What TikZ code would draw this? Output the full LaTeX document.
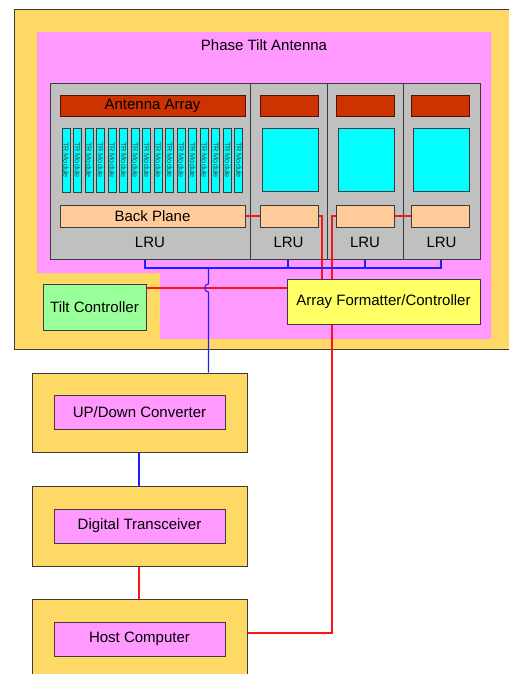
\documentclass[tikz,border=0pt]{standalone}
\usepackage{fontspec}
\setmainfont{Liberation Sans}
\usepackage{xcolor, tikz}
\usetikzlibrary{calc,positioning}

\definecolor{shellorange}{RGB}{255,217,102}
\definecolor{antpink}{RGB}{255,153,255}
\definecolor{lrugray}{RGB}{192,192,192}
\definecolor{arrayred}{RGB}{204,51,0}
\definecolor{modcyan}{RGB}{0,255,255}
\definecolor{planetan}{RGB}{255,204,153}
\definecolor{tiltgreen}{RGB}{153,255,153}
\definecolor{fmtyellow}{RGB}{255,255,102}
\definecolor{wirered}{RGB}{255,20,20}
\definecolor{wireblue}{RGB}{30,30,255}
\definecolor{lineedge}{RGB}{60,60,60}

\begin{document}
\begin{tikzpicture}[x=0.75pt, y=-0.75pt, font=\fontsize{11.25}{13}\selectfont,
	rect/.style n args={4}{draw=lineedge, line width=0.75pt, inner sep=0pt,
		minimum width={((#3)-(#1))*0.75pt}, minimum height={((#4)-(#2))*0.75pt},
		at={({((#1)+(#3))/2},{((#2)+(#4))/2})}},
	modbox/.style={draw=lineedge, line width=0.75pt, fill=modcyan, inner sep=0pt,
		minimum width=64*0.75pt, minimum height=8*0.75pt, rotate=-90,
		font=\fontsize{5.5}{6}\selectfont, text=black!75},
	redw/.style={draw=wirered, line width=0.8pt},
	bluew/.style={draw=wireblue, line width=0.8pt}]
	\useasboundingbox (0,0) rectangle (509,674);
	\clip (0,0) rectangle (509,674);

	%enclosure
	\node[rect={14}{10}{530}{349}, fill=shellorange] (shell) {};
	\fill[antpink] (37,32) -- (491,32) -- (491,339) -- (160,339)
		-- (160,273) -- (37,273) -- cycle;
	\node (title) at (264,45) {Phase Tilt Antenna};

	%line replaceable units
	\node[rect={50}{84}{250}{259}, fill=lrugray] (lru1) {};
	\node[rect={250}{84}{327}{259}, fill=lrugray] (lru2) {};
	\node[rect={327}{84}{403}{259}, fill=lrugray] (lru3) {};
	\node[rect={403}{84}{480}{259}, fill=lrugray] (lru4) {};
	\foreach \k in {1,...,4}
		\node (lbl\k) at ([yshift=17*0.75pt]lru\k.south) {LRU};

		%radiators
		\node[rect={60}{95}{245}{116}, fill=arrayred, draw=arrayred!40!black] (arr1) {Antenna Array};
		\node[rect={260}{95}{318}{116}, fill=arrayred, draw=arrayred!40!black] (arr2) {};
		\node[rect={336}{95}{394}{116}, fill=arrayred, draw=arrayred!40!black] (arr3) {};
		\node[rect={411}{95}{469}{116}, fill=arrayred, draw=arrayred!40!black] (arr4) {};

		%transmit/receive modules
		\foreach \i in {0,...,15}
			\node[modbox] (tr\i) at (66+11.53*\i,160) {TR Module};
		\node[rect={262}{128}{318}{191}, fill=modcyan] (cy2) {};
		\node[rect={338}{128}{394}{191}, fill=modcyan] (cy3) {};
		\node[rect={413}{128}{469}{191}, fill=modcyan] (cy4) {};

		%back planes
		\node[rect={60}{205}{245}{227}, fill=planetan] (bp1) {Back Plane};
		\node[rect={260}{205}{318}{227}, fill=planetan] (bp2) {};
		\node[rect={336}{205}{394}{227}, fill=planetan] (bp3) {};
		\node[rect={411}{205}{469}{227}, fill=planetan] (bp4) {};

	%controllers
	\node[rect={43}{284}{146}{330}, fill=tiltgreen] (tilt) {Tilt Controller};
	\node[rect={287}{279}{480}{324}, fill=fmtyellow] (fmt) {Array Formatter/Controller};

	%below deck
	\node[rect={32}{373}{247}{452}, fill=shellorange] (udOut) {};
	\node[rect={54}{395}{225}{429}, fill=antpink] (udIn) {UP/Down Converter};
	\node[rect={32}{486}{247}{566}, fill=shellorange] (dtOut) {};
	\node[rect={54}{509}{225}{543}, fill=antpink] (dtIn) {Digital Transceiver};
	\node[rect={32}{599}{247}{679}, fill=shellorange] (hcOut) {};
	\node[rect={54}{622}{225}{656}, fill=antpink] (hcIn) {Host Computer};

	%control wiring
	\draw[redw] (bp1.east) -- (bp2.west);
	\draw[redw] (bp3.east) -- (bp4.west);
	\draw[redw] (bp2.east) -| ($(fmt.north west)+(35.5,0)$);
	\draw[redw] (bp3.west) -| ($(fmt.north west)+(45.5,0)$);
	\draw[redw] ([yshift=-4.5*0.75pt]tilt.north east) -- ([yshift=-9.5*0.75pt]fmt.north west);
	\draw[redw] ($(fmt.south west)+(45.5,0)$) |- ([yshift=6*0.75pt]hcOut.east);
	\draw[redw] ([xshift=-0.5*0.75pt]dtOut.south) -- ([xshift=-0.5*0.75pt]hcOut.north);

	%rf bus
	\draw[bluew] ([xshift=-5*0.75pt]lru1.south) -- ++(0,8.5) -| ([xshift=-0.5*0.75pt]lru4.south);
	\draw[bluew] ([xshift=-0.5*0.75pt]lru2.south) -- ++(0,8.5);
	\draw[bluew] (lru3.south) -- ++(0,8.5);
	\coordinate (tap) at (208.5,268);
	\draw[bluew] (tap) -- ++(0,16) arc[start angle=90, end angle=270, radius=3pt]
		-- (udOut.north -| tap);
	\draw[bluew] ([xshift=-0.5*0.75pt]udOut.south) -- ([xshift=-0.5*0.75pt]dtOut.north);

\end{tikzpicture}
\end{document}
